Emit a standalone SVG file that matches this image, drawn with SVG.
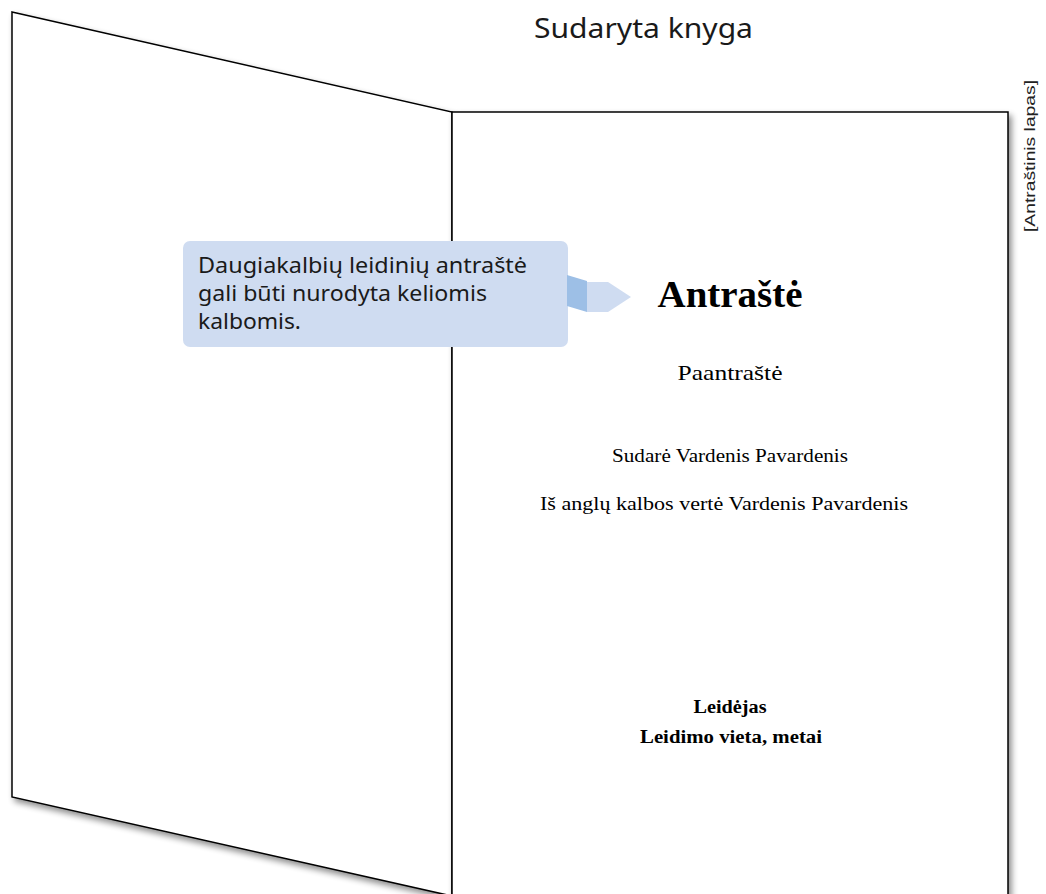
<svg xmlns="http://www.w3.org/2000/svg" width="1046" height="894" viewBox="0 0 1046 894">
  <defs>
    <filter id="shadow" x="-10%" y="-10%" width="130%" height="130%">
      <feGaussianBlur in="SourceAlpha" stdDeviation="3"/>
      <feOffset dx="3" dy="4" result="b"/>
      <feComponentTransfer><feFuncA type="linear" slope="0.45"/></feComponentTransfer>
      <feMerge><feMergeNode/><feMergeNode in="SourceGraphic"/></feMerge>
    </filter>
  </defs>
  <style>
    .page { fill: #ffffff; stroke: #000000; stroke-width: 1.5; }
    .serif { font-family: "Liberation Serif", "DejaVu Serif", serif; fill: #000; text-anchor: middle; }
    .sans { font-family: "Noto Sans", "Open Sans", sans-serif; fill: #1a1a1a; }
    .callout { fill: #cfdcf1; }
    .callout-dark { fill: #9dbfe6; }
  </style>
  <rect width="1046" height="894" fill="#ffffff"/>

  <g id="title">
    <text class="sans" x="534" y="38" font-size="27" textLength="219" lengthAdjust="spacingAndGlyphs">Sudaryta knyga</text>
  </g>

  <g id="left-page">
    <polygon class="page" filter="url(#shadow)" points="12,12 452,112 452,896 12,797"/>
  </g>

  <g id="right-page">
    <rect class="page" filter="url(#shadow)" x="452" y="112" width="556" height="800"/>
    <text class="serif" x="730" y="307" font-size="37" font-weight="bold" textLength="145" lengthAdjust="spacingAndGlyphs">Antraštė</text>
    <text class="serif" x="730" y="380" font-size="22" textLength="105" lengthAdjust="spacingAndGlyphs">Paantraštė</text>
    <text class="serif" x="730" y="462" font-size="18.5" textLength="236" lengthAdjust="spacingAndGlyphs">Sudarė Vardenis Pavardenis</text>
    <text class="serif" x="724" y="510" font-size="18.5" textLength="368" lengthAdjust="spacingAndGlyphs">Iš anglų kalbos vertė Vardenis Pavardenis</text>
    <text class="serif" x="730" y="713" font-size="18" font-weight="bold" textLength="73" lengthAdjust="spacingAndGlyphs">Leidėjas</text>
    <text class="serif" x="731" y="743" font-size="18" font-weight="bold" textLength="182" lengthAdjust="spacingAndGlyphs">Leidimo vieta, metai</text>
  </g>

  <g id="side-label">
    <text font-family="Liberation Sans, Arial, sans-serif" font-size="14.5" fill="#222" text-anchor="middle" textLength="152" lengthAdjust="spacingAndGlyphs" transform="translate(1035,156) rotate(-90)">[Antraštinis lapas]</text>
  </g>

  <g id="callout">
    <rect class="callout" x="183" y="241" width="385" height="106" rx="7"/>
    <polygon class="callout-dark" points="567,275 587,281 587,312 567,306"/>
    <polygon class="callout" points="587,282 608,282 631,297 608,312 587,312"/>
    <text class="sans" font-size="21">
      <tspan x="198" y="273" textLength="329" lengthAdjust="spacingAndGlyphs">Daugiakalbių leidinių antraštė</tspan>
      <tspan x="198" y="301" textLength="289" lengthAdjust="spacingAndGlyphs">gali būti nurodyta keliomis</tspan>
      <tspan x="198" y="329" textLength="103" lengthAdjust="spacingAndGlyphs">kalbomis.</tspan>
    </text>
  </g>

  <g id="connectors"></g>
</svg>
